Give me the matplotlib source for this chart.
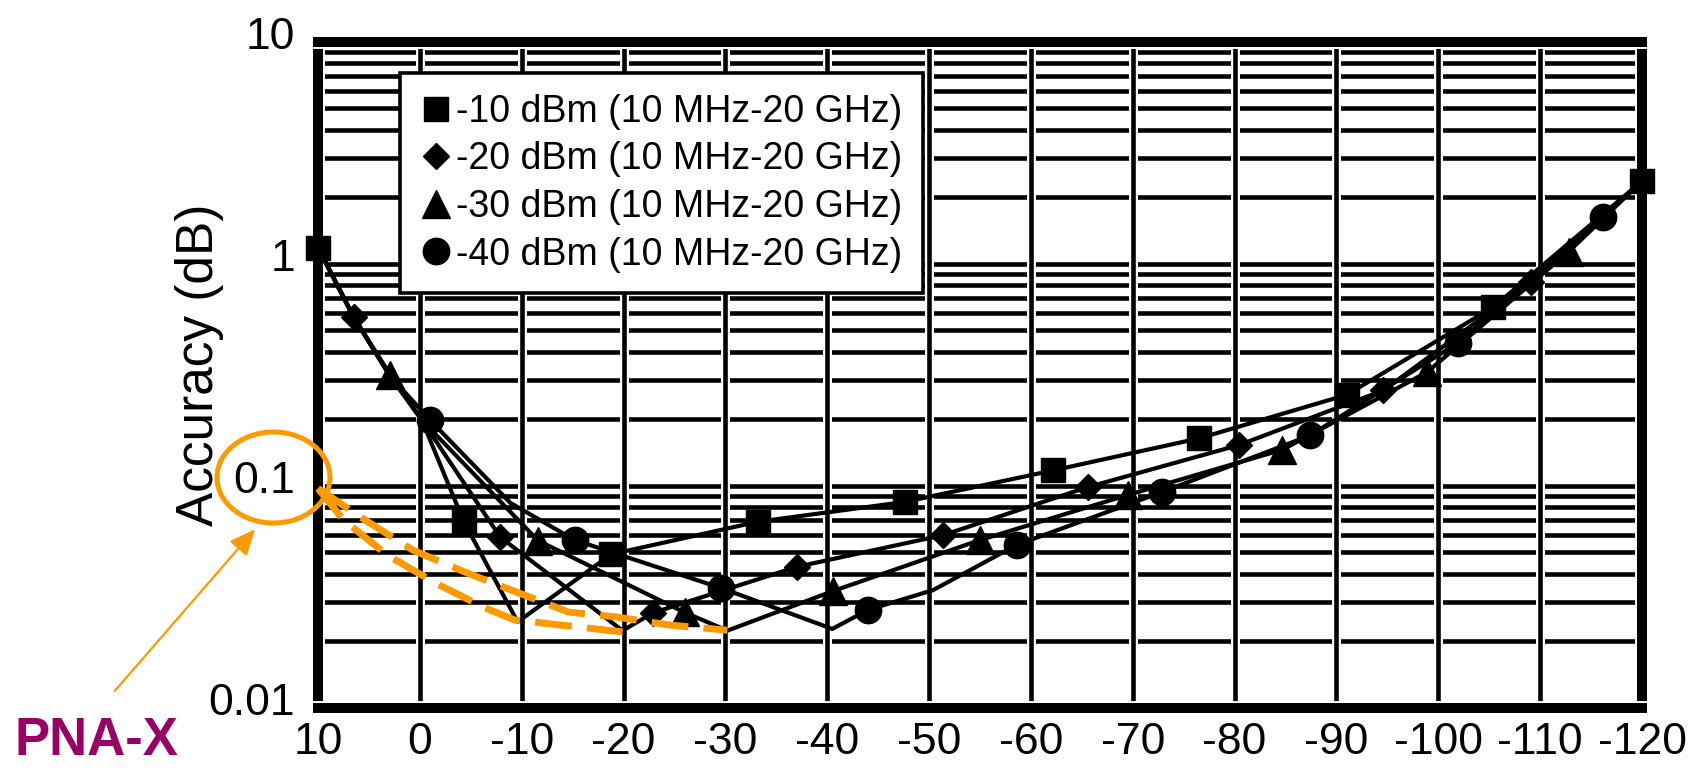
import matplotlib
matplotlib.use('Agg')
import matplotlib.pyplot as plt
import matplotlib.patheffects as pe
import matplotlib.transforms as mtransforms
from matplotlib import font_manager
from matplotlib.lines import Line2D
from matplotlib.patches import Ellipse, FancyArrowPatch


def pick_font(*names):
    for n in names:
        try:
            font_manager.findfont(font_manager.FontProperties(family=n),
                                  fallback_to_default=False)
            return n
        except ValueError:
            pass
    return 'DejaVu Sans'


narrow = pick_font('Liberation Sans Narrow', 'Liberation Sans', 'DejaVu Sans')
regular = pick_font('Liberation Sans', 'DejaVu Sans')

# ---- data ----
x_ticks = [10, 0, -10, -20, -30, -40, -50, -60, -70, -80, -90, -100, -110, -120]
x_tick_labels = ['10', '0', '-10', '-20', '-30', '-40', '-50', '-60', '-70',
                 '-80', '-90', '-100', '-110', '-120']
y_ticks = [0.01, 0.1, 1, 10]
y_tick_labels = ['0.01', '0.1', '1', '10']

labels = ['-10 dBm (10 MHz-20 GHz)', '-20 dBm (10 MHz-20 GHz)',
          '-30 dBm (10 MHz-20 GHz)', '-40 dBm (10 MHz-20 GHz)']

# -10 dBm, squares
sq_x = [10, 6.5, 3.0, -0.2, -4.3, -9.6, -18.8, -33.2, -47.6, -62.2, -76.5, -91.0, -105.4, -120]
sq_y = [1.18, 0.574, 0.315, 0.197, 0.069, 0.0243, 0.049, 0.0687, 0.0843, 0.117, 0.163, 0.256, 0.636, 2.35]
sq_marks = [0, 4, 6, 7, 8, 9, 10, 11, 12, 13]

# -20 dBm, diamonds
dm_x = [10, 6.5, 3.0, -0.2, -7.9, -19.9, -22.9, -37.0, -51.4, -65.6, -80.4, -94.6, -109.1, -120]
dm_y = [1.18, 0.574, 0.315, 0.197, 0.0585, 0.0222, 0.0267, 0.043, 0.0598, 0.0984, 0.152, 0.268, 0.826, 2.35]
dm_marks = [1, 4, 6, 7, 8, 9, 10, 11, 12]

# -30 dBm, triangles
tr_x = [10, 6.5, 2.9, -0.2, -11.6, -26.0, -30.2, -40.6, -55.0, -69.5, -84.7, -98.9, -112.8, -120]
tr_y = [1.18, 0.574, 0.315, 0.197, 0.0565, 0.0268, 0.0222, 0.0335, 0.0568, 0.0906, 0.145, 0.324, 1.13, 2.35]
tr_marks = [2, 4, 5, 7, 8, 9, 10, 11, 12]

# -40 dBm, circles
ci_x = [10, 6.5, 3.0, -1.0, -8.9, -15.2, -29.6, -40.5, -44.0, -50.4, -58.6, -72.9, -87.4, -101.9, -116.2, -120]
ci_y = [1.18, 0.574, 0.315, 0.197, 0.0834, 0.0568, 0.0345, 0.0226, 0.0275, 0.0338, 0.054, 0.0935, 0.168, 0.438, 1.62, 2.35]
ci_marks = [3, 5, 6, 8, 10, 11, 12, 13, 14]

# orange dashed annotation lines
dash_a_x = [10, 5.4, 0.7, -4.4, -9.5, -14.6, -19.2, -24.6, -30.2]
dash_a_y = [0.097, 0.070, 0.0512, 0.0408, 0.0331, 0.0269, 0.0256, 0.0235, 0.0223]
dash_b_x = [10, 7.5, 3.2, -1.5, -6.4, -9.3, -19.9]
dash_b_y = [0.097, 0.070, 0.0486, 0.0364, 0.0281, 0.0248, 0.0219]

orange = '#FF9900'

fig = plt.figure(figsize=(16.97, 7.72), dpi=100)
ax = fig.add_axes([318 / 1697, 1 - 707.5 / 772, 1324 / 1697, 666 / 772])

ax.set_yscale('log')
ax.set_xlim(10, -120)
ax.set_ylim(0.01, 10)

# grid
ax.grid(axis='y', which='both', color='black', lw=3.3, zorder=1.5)
halo = [pe.Stroke(linewidth=6.5, foreground='white'), pe.Normal()]
for xv in x_ticks[1:-1]:
    ax.axvline(xv, color='black', lw=3.3, zorder=1.6, path_effects=halo)

for s in ax.spines.values():
    s.set_linewidth(7.2)
    s.set_path_effects([pe.Stroke(linewidth=10, foreground='white'), pe.Normal()])

series = [(sq_x, sq_y, sq_marks, 's', 17),
          (dm_x, dm_y, dm_marks, 'D', 13.5),
          (tr_x, tr_y, tr_marks, '^', 20),
          (ci_x, ci_y, ci_marks, 'o', 19)]
handles = []
for xs, ys, mk, m, ms in series:
    ax.plot(xs, ys, color='black', lw=3.0, marker=m, ms=ms, markevery=mk,
            mfc='black', mec='black', zorder=3, clip_on=False)
    handles.append(Line2D([], [], ls='none', marker=m, ms=ms, color='black'))

ax.plot(dash_a_x, dash_a_y, color=orange, lw=5, dashes=(5.3, 2.2),
        solid_capstyle='butt', dash_capstyle='butt', zorder=4, clip_on=False)
ax.plot(dash_b_x, dash_b_y, color=orange, lw=5, dashes=(5.3, 2.2),
        solid_capstyle='butt', dash_capstyle='butt', zorder=4, clip_on=False)

ax.set_xticks(x_ticks)
ax.set_xticklabels(x_tick_labels)
ax.set_yticks(y_ticks)
ax.set_yticklabels(y_tick_labels)
ax.yaxis.set_minor_formatter(matplotlib.ticker.NullFormatter())
ax.tick_params(axis='both', which='both', length=0)
ax.tick_params(axis='x', pad=10.5)
ax.tick_params(axis='y', pad=16.5)
for lab in ax.get_xticklabels() + ax.get_yticklabels():
    lab.set_fontfamily(narrow)
    lab.set_fontsize(32)
up = mtransforms.ScaledTranslation(0, 6 / 72, fig.dpi_scale_trans)
for lab in ax.get_yticklabels():
    lab.set_transform(lab.get_transform() + up)

ax.set_ylabel('Accuracy (dB)', fontsize=37, family=regular)
ax.yaxis.set_label_coords(-0.071, 0.514)

leg = ax.legend(handles, labels, loc='upper left',
                bbox_to_anchor=(0.0619, 0.9527), prop={'family': regular, 'size': 27},
                frameon=True, fancybox=False, edgecolor='black', framealpha=1,
                borderpad=0.55, labelspacing=0.31, handlelength=0.8,
                handletextpad=0.15, borderaxespad=0)
leg.get_frame().set_linewidth(2.6)
leg.set_zorder(5)

# annotation: circle round 0.1, arrow and label
fig.add_artist(Ellipse((273.5 / 1697, 1 - 477.5 / 772), 113 / 1697, 91 / 772,
                       transform=fig.transFigure, fill=False,
                       edgecolor=orange, lw=3.6, zorder=6))
fig.add_artist(FancyArrowPatch((113 / 1697, 1 - 693 / 772), (257 / 1697, 1 - 527 / 772),
                               transform=fig.transFigure, color=orange, lw=1.6,
                               arrowstyle='-|>,head_length=0.8,head_width=0.35',
                               mutation_scale=20, zorder=6))
fig.text(15 / 1697, 1 - 755 / 772, 'PNA-X', color='#990066', fontsize=38,
         fontweight='bold', family=regular, ha='left', va='baseline')

fig.savefig('out.png', dpi=100)
